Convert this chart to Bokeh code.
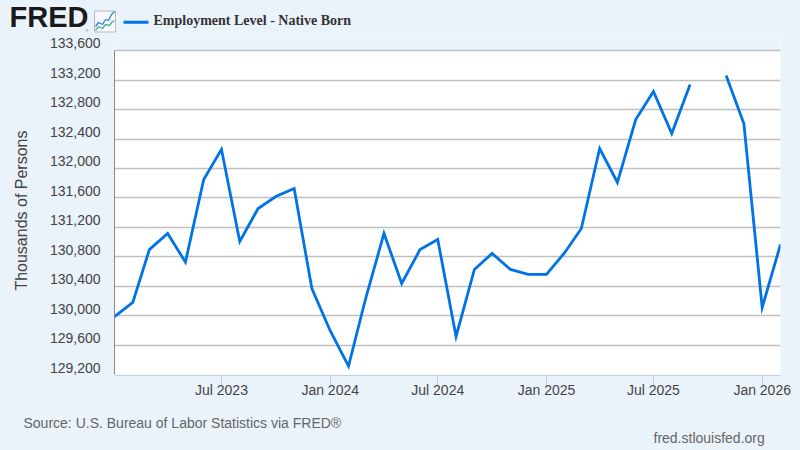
from datetime import datetime
from math import pi

from bokeh.embed import file_html
from bokeh.layouts import column, row
from bokeh.models import BoxAnnotation, FixedTicker, Label, LinearAxis, Range1d
from bokeh.plotting import figure
from bokeh.resources import INLINE

# monthly, Jan 2023 - Feb 2026 (no Oct 2025 reading)
years = [2023] * 12 + [2024] * 12 + [2025] * 12 + [2026] * 2
months = list(range(1, 13)) * 3 + [1, 2]
employment = [
    129990, 130185, 130900, 131120, 130730, 131850, 132260, 131010, 131458, 131620, 131729, 130373,
    129800, 129320, 130237, 131119, 130441, 130900, 131037, 129722, 130631, 130848, 130631, 130563,
    130563, 130861, 131186, 132271, 131810, 132664, 133044, 132475, 133139, float("nan"), 133261, 132610,
    130115, 130970,
]
y_ticks = list(range(129200, 133601, 400))
x_tick_labels = ["Jul 2023", "Jan 2024", "Jul 2024", "Jan 2025", "Jul 2025", "Jan 2026"]
x_tick_dates = [(2023, 7), (2024, 1), (2024, 7), (2025, 1), (2025, 7), (2026, 1)]

BG = "#EAF2FA"
BLUE = "#0073E6"
SANS = "Liberation Sans"
LABEL_SHIFT = 100  # y labels sit about 7px above their gridlines


def ms(y, m):
    return (datetime(y, m, 1) - datetime(1970, 1, 1)).total_seconds() * 1000


def strip(w, h):
    # plain panel whose data coordinates are its pixels, y going down
    f = figure(width=w, height=h, x_range=Range1d(0, w), y_range=Range1d(h, 0),
               output_backend="svg", toolbar_location=None, min_border=0,
               background_fill_color=BG, border_fill_color=BG)
    f.outline_line_color = None
    f.axis.visible = False
    f.grid.visible = False
    return f


def note(f, text, x, y, **kw):
    f.add_layout(Label(x=x, y=y, text=text, **kw))


dates = [ms(y, m) for y, m in zip(years, months)]
x_ticks = [ms(y, m) for y, m in x_tick_dates]

p = figure(
    width=764, height=372, output_backend="svg", toolbar_location=None,
    x_axis_type="datetime",
    x_range=Range1d(ms(2023, 1), ms(2026, 2)), y_range=Range1d(129193, 133790),
    min_border_left=78, min_border_right=20, min_border_top=0, min_border_bottom=33,
    background_fill_color="white", border_fill_color=BG,
)
p.outline_line_color = None

# the frame runs a little above the top gridline to make room for the 133,600 label
p.add_layout(BoxAnnotation(bottom=133600, fill_color=BG, fill_alpha=1, line_color=None, level="image"))

p.line(dates, employment, line_color=BLUE, line_width=2.8, line_join="miter")

p.xgrid.visible = False
p.ygrid.ticker = FixedTicker(ticks=y_ticks[1:])
p.ygrid.grid_line_color = "#C0C0C0"
p.ygrid.grid_line_width = 1.7

# first axis only draws the line, second one only the labels
p.yaxis.ticker = FixedTicker(ticks=[])
p.yaxis.bounds = (129200, 133600)
p.yaxis.major_tick_line_color = None
p.yaxis.minor_tick_line_color = None
p.yaxis.major_tick_out = 0
p.yaxis.major_label_text_font_size = "0px"
p.yaxis.major_label_standoff = 0
p.yaxis.axis_line_color = "#888888"

shifted = [t + LABEL_SHIFT for t in y_ticks]
labels = LinearAxis(ticker=FixedTicker(ticks=shifted),
                    major_label_overrides={s: f"{t:,}" for s, t in zip(shifted, y_ticks)})
labels.axis_line_color = None
labels.major_tick_line_color = None
labels.minor_tick_line_color = None
labels.major_tick_out = 0
labels.major_label_standoff = 14
labels.major_label_text_font = SANS
labels.major_label_text_font_size = "14px"
labels.major_label_text_color = "#444444"
p.add_layout(labels, "left")

p.xaxis.ticker = FixedTicker(ticks=x_ticks)
p.xaxis.major_label_overrides = dict(zip(x_ticks, x_tick_labels))
p.xaxis.minor_tick_line_color = None
p.xaxis.major_tick_in = 0
p.xaxis.major_tick_out = 10
p.xaxis.major_tick_line_color = "#C0D0E0"
p.xaxis.axis_line_color = "#C0D0E0"
p.xaxis.major_label_standoff = -4
p.xaxis.major_label_text_font = SANS
p.xaxis.major_label_text_font_size = "14px"
p.xaxis.major_label_text_color = "#444444"

# header: logo, graph icon, legend
header = strip(800, 36)
note(header, "FRED", 9, 32, text_font=SANS, text_font_style="bold", text_font_size="29px", text_color="#1A1A1A")
note(header, "®", 85, 32, text_font=SANS, text_font_size="4px", text_color="#555555")
header.quad(left=94, right=115, top=10.5, bottom=31.5, fill_color="#F6F8FB", line_color="#B8B8B8", line_width=1)
header.line([95, 98, 102, 105, 108, 111, 114], [26, 22, 24, 19, 20, 14, 11], line_color="#2E7FD8", line_width=1.3)
header.line([95, 98, 102, 105, 109, 112, 114], [30, 26, 28, 24, 25, 21, 20], line_color="#4DB6A0", line_width=1.3)
header.line([123, 148], [21.7, 21.7], line_color=BLUE, line_width=3)
note(header, "Employment Level - Native Born", 153, 27, text_font="Liberation Serif", text_font_style="bold",
     text_font_size="14px", text_color="#333333")

# y axis title has its own panel, it is centred on the plot rather than the frame
y_title = strip(36, 372)
note(y_title, "Thousands of Persons", 21, 191, angle=pi / 2, text_align="center", text_baseline="middle",
     text_font=SANS, text_font_size="16px", text_color="#444444")

footer = strip(800, 42)
note(footer, "Source: U.S. Bureau of Labor Statistics via FRED®", 23, 22, text_font=SANS,
     text_font_size="14px", text_color="#666666")
note(footer, "fred.stlouisfed.org", 653, 37, text_font=SANS, text_font_size="14px", text_color="#666666")

# page shows through hairline gaps between the panels otherwise
layout = column(header, row(y_title, p, styles={"background-color": BG}), footer,
                styles={"background-color": BG})

open("out.html", "w").write(file_html(layout, INLINE))
